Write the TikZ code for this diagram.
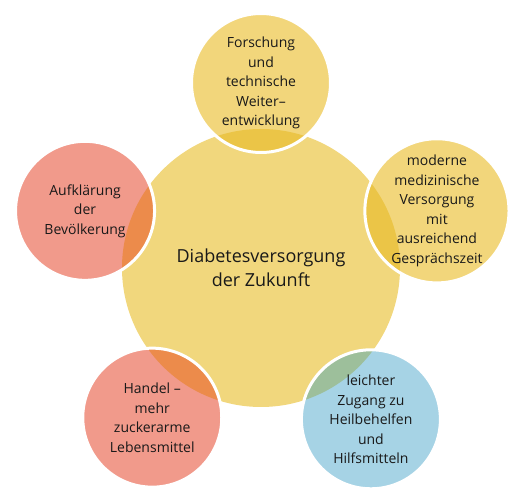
\documentclass[tikz,border=0pt]{standalone}
\usepackage{fontspec}
\setmainfont{Open Sans}
\usepackage{tikz}
\usetikzlibrary{shapes.geometric}
\definecolor{coreyellow}{HTML}{F1D77D}
\definecolor{satyellow}{HTML}{F2D67B}
\definecolor{satred}{HTML}{F19A8B}
\definecolor{satblue}{HTML}{A6D3E5}
\definecolor{mixyellow}{HTML}{EBC547}
\definecolor{mixred}{HTML}{EC8B4B}
\definecolor{mixblue}{HTML}{9DBF9B}
\tikzstyle{core} = [circle, 
minimum size=278pt, 
inner sep=0pt, 
fill=coreyellow, 
text=black!90, 
align=center, 
font=\fontsize{18}{24}\selectfont]
\tikzstyle{sat} = [circle, 
minimum size=139pt, 
inner sep=0pt, 
draw=white, 
line width=3pt, 
text=black!90, 
align=center, 
font=\fontsize{14}{19.5}\selectfont]
\tikzstyle{yellowsat} = [sat, fill=satyellow, 
path picture={\fill[mixyellow] (core.center) circle (139pt);}]
\tikzstyle{redsat} = [sat, fill=satred, 
path picture={\fill[mixred] (core.center) circle (139pt);}]
\tikzstyle{bluesat} = [sat, fill=satblue, 
path picture={\fill[mixblue] (core.center) circle (139pt);}]

\begin{document}
\begin{tikzpicture}[x=1pt, y=1pt]
\useasboundingbox (-261,-235) rectangle (262,268);

\node (core) [core] at (0,0) {Diabetesversorgung\\der Zukunft};

\node (forsch) [yellowsat] at (90:185) {Forschung\\und\\technische\\Weiter--\\entwicklung};
\node (versorg) [yellowsat] at (18:185) {moderne\\medizinische\\Versorgung\\mit\\ausreichend\\Gesprächszeit};
\node (aufkl) [redsat] at (162:185) {Aufklärung\\der\\Bevölkerung};
\node (handel) [redsat] at (234:185) {Handel --\\mehr\\zuckerarme\\Lebensmittel};
\node (zugang) [bluesat] at (306:187) {leichter\\Zugang zu\\Heilbehelfen\\und\\Hilfsmitteln};

\end{tikzpicture}
\end{document}
